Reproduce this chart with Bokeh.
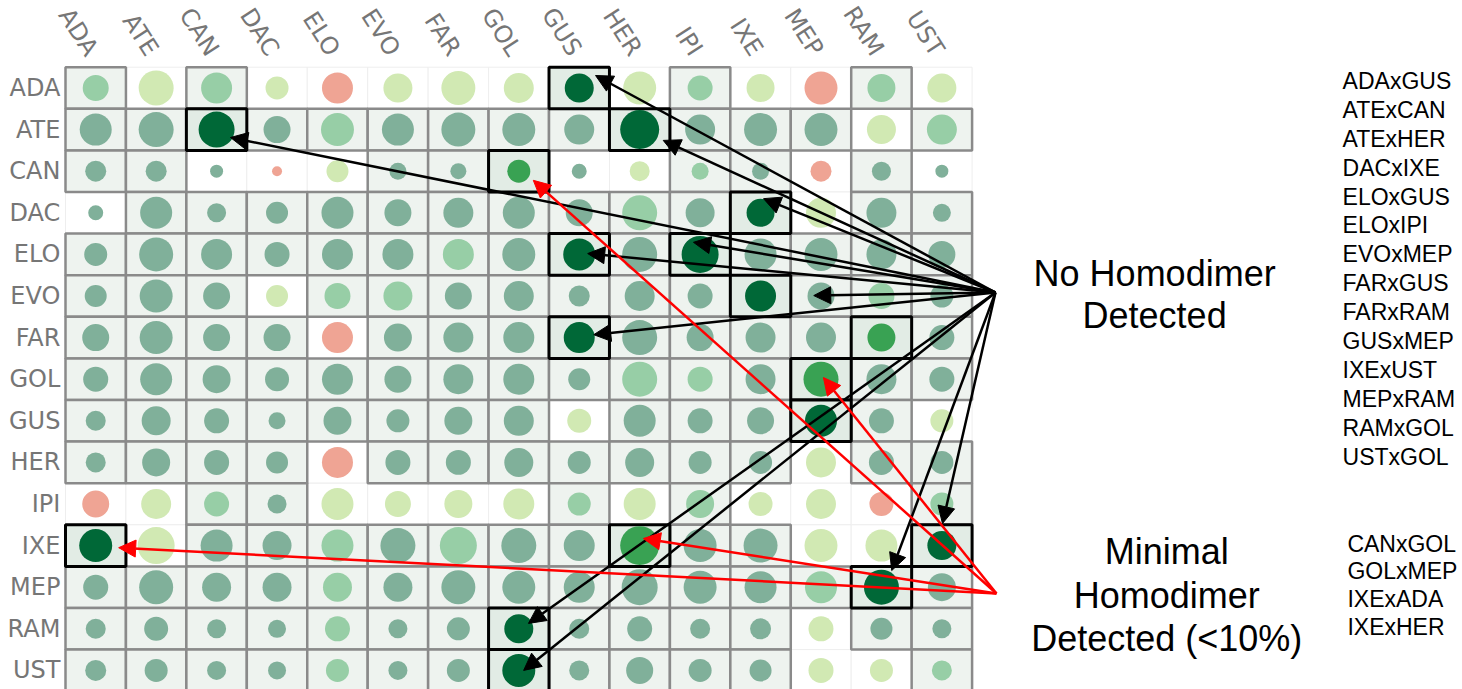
from bokeh.plotting import figure
from bokeh.models import Range1d, ColumnDataSource, Arrow, NormalHead
from bokeh.core.properties import value
from bokeh.embed import file_html
from bokeh.resources import INLINE

# Strains, in row / column order
strains = ["ADA", "ATE", "CAN", "DAC", "ELO", "EVO", "FAR", "GOL",
           "GUS", "HER", "IPI", "IXE", "MEP", "RAM", "UST"]

# Marker diameter per cell (row strain -> values along the columns)
marker_size = {
    "ADA": [26, 35, 31, 23, 31, 29, 34, 30, 29, 33, 25, 28, 33, 28, 29],
    "ATE": [32, 35, 36, 27, 33, 32, 34, 33, 30, 39, 30, 33, 33, 29, 30],
    "CAN": [21, 21, 13, 10, 22, 17, 16, 23, 15, 20, 17, 17, 21, 19, 13],
    "DAC": [15, 32, 19, 22, 32, 27, 30, 32, 27, 35, 29, 28, 30, 30, 18],
    "ELO": [23, 34, 31, 25, 31, 31, 31, 33, 32, 35, 37, 32, 33, 30, 27],
    "EVO": [22, 33, 27, 22, 26, 29, 27, 30, 21, 30, 25, 31, 27, 26, 23],
    "FAR": [27, 33, 27, 27, 31, 28, 30, 31, 31, 35, 27, 30, 30, 28, 25],
    "GOL": [25, 32, 28, 24, 31, 27, 30, 31, 22, 35, 25, 30, 35, 30, 25],
    "GUS": [20, 29, 25, 17, 28, 23, 28, 30, 24, 32, 25, 27, 32, 25, 23],
    "HER": [20, 28, 25, 22, 31, 25, 25, 29, 23, 29, 23, 23, 30, 25, 23],
    "IPI": [27, 30, 25, 19, 32, 26, 28, 31, 23, 32, 28, 24, 30, 24, 23],
    "IXE": [33, 37, 32, 29, 32, 35, 37, 35, 31, 39, 33, 34, 33, 32, 29],
    "MEP": [25, 34, 29, 29, 29, 29, 34, 33, 31, 36, 33, 32, 32, 35, 28],
    "RAM": [20, 24, 19, 18, 25, 19, 23, 29, 20, 25, 20, 21, 25, 22, 19],
    "UST": [21, 23, 19, 18, 23, 19, 23, 33, 20, 27, 23, 22, 25, 23, 20],
}

# Marker tone per cell: D dark, M mid green, G grey-green, L light green,
# Y yellow-green, S salmon
marker_tone = {
    "ADA": "L Y L Y S Y Y Y D Y L Y S L Y".split(),
    "ATE": "G G D G L G G G G D G G G Y L".split(),
    "CAN": "G G G S Y G G M G Y L G S G G".split(),
    "DAC": "G G G G G G G G G L G D Y G G".split(),
    "ELO": "G G G G G G L G D G D G G G G".split(),
    "EVO": "G G G Y L L G G G G G D G L G".split(),
    "FAR": "G G G G S G G G D G G G G M G".split(),
    "GOL": "G G G G G G G G G L L G M G G".split(),
    "GUS": "G G G G G G G G Y G G G D G Y".split(),
    "HER": "G G G G S G G G G G G G Y G G".split(),
    "IPI": "S Y L G Y Y Y Y L Y L Y Y S L".split(),
    "IXE": "D Y G G L G L G G M G G Y Y D".split(),
    "MEP": "G G G G L G G G G G G G L D G".split(),
    "RAM": "G G G G L G G D G G G G Y G G".split(),
    "UST": "G G G G L G G D G G G G Y Y L".split(),
}

# Cell frame: "." open, "b" boxed, "H" highlighted pair
cell_frame = {
    "ADA": "b . b . . . . . H . b . . b .".split(),
    "ATE": "b b H b b b b b b H b b b . b".split(),
    "CAN": "b b . . . b b H . . b b . b .".split(),
    "DAC": ". b b b b b b b b b b H . b b".split(),
    "ELO": "b b b b b b b b H b H b b b b".split(),
    "EVO": "b b b . b b b b b b b H b b b".split(),
    "FAR": "b b b b . b b b H b b b b H b".split(),
    "GOL": "b b b b b b b b b b b b H b b".split(),
    "GUS": "b b b b b b b b . b b b H b .".split(),
    "HER": "b b b b . b b b b b b b . b b".split(),
    "IPI": ". . b b . . . . b . b . . . b".split(),
    "IXE": "H . b b b b b b b H b b . . H".split(),
    "MEP": "b b b b b b b b b b b b b H b".split(),
    "RAM": "b b b b b b b H b b b b . b b".split(),
    "UST": "b b b b b b b H b b b b . . b".split(),
}

no_homodimer_pairs = ["ADAxGUS", "ATExCAN", "ATExHER", "DACxIXE", "ELOxGUS",
                      "ELOxIPI", "EVOxMEP", "FARxGUS", "FARxRAM", "GUSxMEP",
                      "IXExUST", "MEPxRAM", "RAMxGOL", "USTxGOL"]
minimal_pairs = ["CANxGOL", "GOLxMEP", "IXExADA", "IXExHER"]

# Arrow targets: (row, column, tip offset x, tip offset y) in cell units
black_targets = [("ADA", "GUS", 0.27, -0.30), ("ATE", "CAN", 0.23, 0.19),
                 ("ATE", "HER", 0.39, 0.26), ("DAC", "IXE", 0.05, -0.34),
                 ("ELO", "GUS", 0.14, -0.02), ("ELO", "IPI", -0.11, -0.29),
                 ("EVO", "MEP", -0.12, -0.01), ("FAR", "GUS", 0.24, -0.07),
                 ("RAM", "GOL", 0.16, -0.13), ("UST", "GOL", 0.08, 0.0),
                 ("MEP", "RAM", 0.17, -0.40), ("IXE", "UST", 0.01, -0.53)]
red_targets = [("CAN", "GOL", 0.24, 0.22), ("GOL", "MEP", 0.04, -0.04),
               ("IXE", "ADA", 0.38, 0.05), ("IXE", "HER", 0.06, -0.17)]

TONES = {"D": "#006837", "M": "#39a253", "G": "#80b09a", "L": "#97cea6",
         "Y": "#d1e9b3", "S": "#efa494"}

n = len(strains)
xs, ys, sizes, colors, frames = [], [], [], [], []
for j, row in enumerate(strains):
    for i in range(n):
        xs.append(i + 0.5)
        ys.append(j + 0.5)
        sizes.append(marker_size[row][i])
        colors.append(TONES[marker_tone[row][i]])
        frames.append(cell_frame[row][i])

p = figure(width=1462, height=689,
           x_range=Range1d(-1.0754, 23.114), y_range=Range1d(14.959, -1.603),
           toolbar_location=None, output_backend="svg",
           x_axis_location=None, y_axis_location=None, min_border=0)
p.grid.visible = False
p.outline_line_color = None
p.background_fill_color = "white"
p.border_fill_color = "white"

def cells(kind):
    sel = [k for k, f in enumerate(frames) if f == kind]
    return ColumnDataSource(dict(x=[xs[k] for k in sel], y=[ys[k] for k in sel]))

# open cells with a faint outline
p.rect("x", "y", width=1, height=1, source=cells("."), fill_color="white",
       line_color="#eeeeee", line_width=1)
# boxed cells
p.rect("x", "y", width=1, height=1, source=cells("b"), fill_color="#eef3ef",
       line_color="#8a8a8a", line_width=2.5)
# highlighted pairs
p.rect("x", "y", width=1, height=1, source=cells("H"), fill_color="#e2ece5",
       line_color="black", line_width=3)

p.scatter(x=xs, y=ys, size=sizes, marker="circle", fill_color=colors,
          line_color=None)

# row labels
p.text(x=[-0.085] * n, y=[j + 0.5 for j in range(n)], text=strains,
       text_align="right", text_baseline="middle", text_color="#767676",
       text_font=value("DejaVu Sans"), text_font_size="24px")
# column labels
p.text(x=[i + 0.5 - 0.06 for i in range(n)], y=[-0.33] * n, text=strains,
       angle=-1.0, text_align="right", text_baseline="middle",
       text_color="#767676", text_font=value("DejaVu Sans"),
       text_font_size="24px")

def add_arrows(targets, origin, color):
    src = ColumnDataSource(dict(
        xs=[origin[0]] * len(targets), ys=[origin[1]] * len(targets),
        xe=[strains.index(c) + 0.5 + dx for r, c, dx, dy in targets],
        ye=[strains.index(r) + 0.5 + dy for r, c, dx, dy in targets]))
    p.add_layout(Arrow(x_start="xs", y_start="ys", x_end="xe", y_end="ye",
                       source=src, line_color=color, line_width=2.5,
                       end=NormalHead(size=17, fill_color=color,
                                      line_color=color, line_width=1)))

add_arrows(black_targets, (15.387, 5.416), "black")
add_arrows(red_targets, (15.403, 12.65), "#ff0000")

font = value("Liberation Sans")
p.text(x=[18.02, 18.02], y=[4.96, 5.97], text=["No Homodimer", "Detected"],
       text_align="center", text_baseline="middle", text_color="black",
       text_font=font, text_font_size="36px")
p.text(x=[18.22] * 3, y=[11.64, 12.70, 13.73],
       text=["Minimal", "Homodimer", "Detected (<10%)"],
       text_align="center", text_baseline="middle", text_color="black",
       text_font=font, text_font_size="36px")

step1 = 28.9 / 41.6
p.text(x=[21.13] * len(no_homodimer_pairs),
       y=[0.33 + k * step1 for k in range(len(no_homodimer_pairs))],
       text=no_homodimer_pairs, text_align="left", text_baseline="middle",
       text_color="black", text_font=font, text_font_size="23px")
step2 = 27.7 / 41.6
p.text(x=[21.21] * len(minimal_pairs),
       y=[11.45 + k * step2 for k in range(len(minimal_pairs))],
       text=minimal_pairs, text_align="left", text_baseline="middle",
       text_color="black", text_font=font, text_font_size="23px")

open("out.html", "w").write(file_html(p, INLINE))
